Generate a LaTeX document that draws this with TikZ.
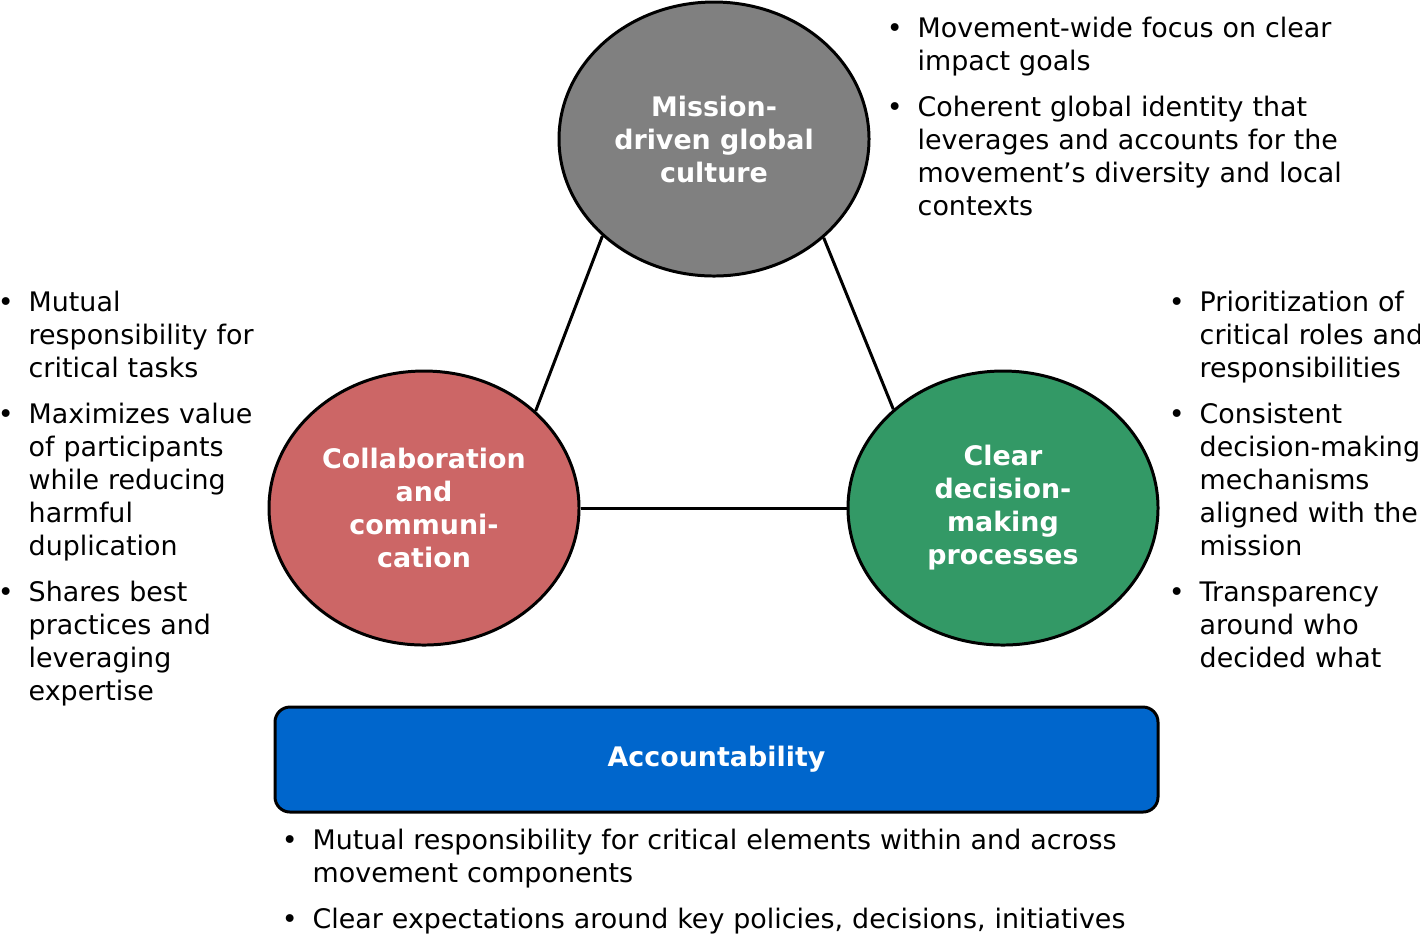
\documentclass[tikz,border=0pt]{standalone}
\usepackage{fontspec}
\setmainfont{DejaVu Sans}
\usepackage{enumitem}
\usetikzlibrary{shapes.geometric}

\definecolor{culturegrey}{HTML}{808080}
\definecolor{collabred}{HTML}{CC6666}
\definecolor{decisiongreen}{HTML}{339966}
\definecolor{accountblue}{HTML}{0066CC}

\newcommand{\pointlist}[1]{%
  \begin{itemize}[leftmargin=2.3mm, labelsep=1.5mm, itemsep=3.7pt, parsep=0pt, topsep=0pt, partopsep=0pt]
  #1
  \end{itemize}}

\begin{document}
\begin{tikzpicture}[x=0.1mm, y=-0.1mm,
  every node/.style={font=\fontsize{7.65}{9.39}\selectfont},
  pillar/.style={ellipse, draw, line width=0.85pt, inner sep=0pt, minimum width=31mm, minimum height=27.4mm,
    text=white, align=center, font=\fontsize{7.65}{9.39}\selectfont\bfseries},
  points/.style={anchor=north west, inner sep=0pt, align=left},
  link/.style={line width=0.85pt}]
\useasboundingbox (0,0) rectangle (1420,933);

% Nodes
\node (culture) [pillar, fill=culturegrey] at (714,139) {Mission-\\driven global\\culture};
\node (collab) [pillar, fill=collabred] at (424,508) {Collaboration\\and\\communi-\\cation};
\node (decision) [pillar, fill=decisiongreen] at (1003,508) {Clear\\decision-\\making\\processes};
\node (account) [rectangle, draw, line width=0.85pt, rounded corners=1.5mm, fill=accountblue,
  minimum width=88.3mm, minimum height=10.5mm, text=white, font=\fontsize{7.65}{9.39}\selectfont\bfseries]
  at (716.5,759.5) {Accountability};

% Bullet texts
\node (culturepoints) [points, text width=52mm] at (894,4) {\pointlist{
  \item Movement-wide focus on clear\\impact goals
  \item Coherent global identity that\\leverages and accounts for the\\movement’s diversity and local\\contexts}};
\node (collabpoints) [points, text width=30mm] at (5,278) {\pointlist{
  \item Mutual\\responsibility for\\critical tasks
  \item Maximizes value\\of participants\\while reducing\\harmful\\duplication
  \item Shares best\\practices and\\leveraging\\expertise}};
\node (decisionpoints) [points, text width=30mm] at (1176,278) {\pointlist{
  \item Prioritization of\\critical roles and\\responsibilities
  \item Consistent\\decision-making\\mechanisms\\aligned with the\\mission
  \item Transparency\\around who\\decided what}};
\node (accountpoints) [points, text width=95mm] at (289,816) {\pointlist{
  \item Mutual responsibility for critical elements within and across\\movement components
  \item Clear expectations around key policies, decisions, initiatives}};

% Lines
\draw[link] (culture.221.7) -- (collab.41.4);
\draw[link] (culture.318.3) -- (decision.138.6);
\draw[link] (collab.east) -- (decision.west);
\end{tikzpicture}
\end{document}
